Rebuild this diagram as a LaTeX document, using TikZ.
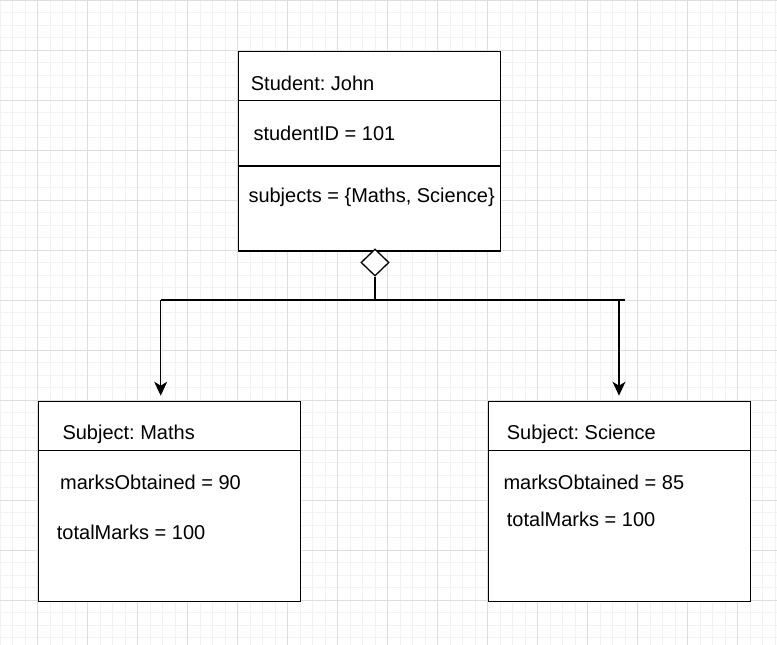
\documentclass[tikz,border=0pt]{standalone}
\usepackage{fontspec}
\setmainfont{Liberation Sans}
\usetikzlibrary{arrows.meta,shapes.geometric}
\frenchspacing
\begin{document}
\begin{tikzpicture}[x=1pt,y=-1pt,
  box/.style={draw=black,line width=1.3pt,fill=white,inner sep=0pt,anchor=north west},
  lbl/.style={anchor=base west,inner sep=0pt,font=\fontsize{20}{24}\selectfont},
  conn/.style={line width=1.3pt,draw=black},
  arr/.style={conn,-{Stealth[length=14pt,width=13pt,inset=4pt]},shorten >=5pt},
  minorgrid/.style={draw=black!5,line width=0.8pt},
  majorgrid/.style={draw=black!13,line width=0.9pt}]
\useasboundingbox (0,0) rectangle (777,645);
\fill[white] (0,0) rectangle (777,645);
% grid
\foreach \x in {0,12.5,...,777} \draw[minorgrid] (\x,0) -- (\x,645);
\foreach \y in {0,12.5,...,645} \draw[minorgrid] (0,\y) -- (777,\y);
\foreach \x in {37.5,87.5,...,777} \draw[majorgrid] (\x,0) -- (\x,645);
\foreach \y in {0.5,50.5,...,645} \draw[majorgrid] (0,\y) -- (777,\y);
% student box
\node[box,minimum width=262.5pt,minimum height=199.5pt] (student) at (237.5,50.7) {};
\draw[conn] (237.5,100.7) -- (500,100.7);
\draw[conn] (237.5,166) -- (500,166);
\node[lbl] (sname) at (250.7,90) {Student: John};
\node[lbl] (sid) at (253.3,140) {studentID = 101};
\node[lbl] (ssub) at (248.3,202) {subjects = \{Maths, Science\}};
% maths box
\node[box,minimum width=262.5pt,minimum height=200pt] (maths) at (37.5,400.7) {};
\draw[conn] (37.5,450.7) -- (300,450.7);
\node[lbl] (mname) at (62.3,439.3) {Subject: Maths};
\node[lbl] (mobt) at (60,489) {marksObtained = 90};
\node[lbl] (mtot) at (56.7,539) {totalMarks = 100};
% science box
\node[box,minimum width=262.5pt,minimum height=200pt] (sci) at (487.5,400.7) {};
\draw[conn] (487.5,450.7) -- (750,450.7);
\node[lbl] (cname) at (506.7,439.3) {Subject: Science};
\node[lbl] (cobt) at (503.3,489) {marksObtained = 85};
\node[lbl] (ctot) at (506.7,526) {totalMarks = 100};
% aggregation diamond
\node[draw=black,line width=1.3pt,fill=white,diamond,inner sep=0pt,minimum width=28pt,minimum height=27pt] (agg) at (375,262.5) {};
% connectors
\coordinate (j) at (375,300);
\coordinate (hl) at (160.7,300);
\coordinate (hr) at (625,300);
\coordinate (rt) at (619,300);
\draw[conn] (agg.south) -- (j);
\draw[conn] (hl) -- (hr);
\draw[arr] (hl) -- (hl |- maths.north);
\draw[arr] (rt) -- (rt |- sci.north);
\end{tikzpicture}
\end{document}
